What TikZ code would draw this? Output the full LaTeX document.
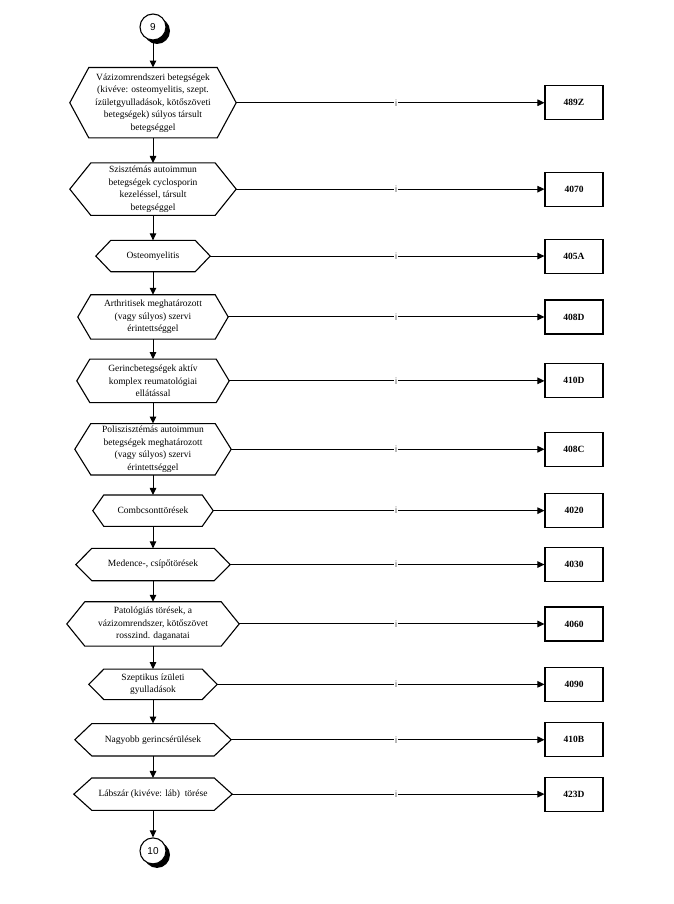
\documentclass[tikz,border=0pt]{standalone}
\usepackage{fontspec}
\setmainfont{Liberation Serif}
\setsansfont{Liberation Sans}
\usetikzlibrary{arrows.meta,positioning,shadows}

\tikzset{
  hexa/.style={align=center, inner sep=0pt, font=\fontsize{9.5}{12.5}\selectfont},
  hexline/.style={draw, line width=1.1pt, line join=miter},
  codebox/.style={draw, line width=1.1pt, minimum width=58pt, minimum height=34pt, inner sep=0pt, font=\fontsize{9.5}{11}\selectfont\bfseries},
  endcirc/.style={circle, draw, fill=white, line width=1.1pt, minimum size=26pt, inner sep=0pt, font=\sffamily\fontsize{10}{11}\selectfont, drop shadow={shadow xshift=4pt, shadow yshift=-4pt, fill=black, opacity=1}},
  arr/.style={-{Triangle[length=7pt,width=6.5pt]}, line width=1pt},
  ilabel/.style={fill=white, inner sep=0.8pt, text=black!70, font=\sffamily\fontsize{9}{9}\selectfont},
}

\begin{document}
\begin{tikzpicture}[x=1pt, y=1pt]
\useasboundingbox (0,0) rectangle (673,-904);
%nodes
\node[endcirc] (c9) at (153,-27) {9};
\node[hexa, minimum width=128pt, minimum height=70pt, below=27pt of c9] (h1) {V\'azizomrendszeri betegs\'egek\\(kiv\'eve: osteomyelitis, szept.\\\'iz\"uletgyullad\'asok, k\"ot\H{o}sz\"oveti\\betegs\'egek) s\'ulyos t\'arsult\\betegs\'eggel};
\node[hexa, minimum width=124pt, minimum height=52pt, below=25pt of h1] (h2) {Szisztémás autoimmun\\betegségek cyclosporin\\kezeléssel, társult\\betegséggel};
\node[hexa, minimum width=84pt, minimum height=31pt, below=25pt of h2] (h3) {Osteomyelitis};
\node[hexa, minimum width=124pt, minimum height=44pt, below=23pt of h3] (h4) {Arthritisek meghatározott\\(vagy súlyos) szervi\\érintettséggel};
\node[hexa, minimum width=126pt, minimum height=43pt, below=20pt of h4] (h5) {Gerincbetegségek aktív\\komplex reumatológiai\\ellátással};
\node[hexa, minimum width=124pt, minimum height=51pt, below=21pt of h5] (h6) {Poliszisztémás autoimmun\\betegségek meghatározott\\(vagy súlyos) szervi\\érintettséggel};
\node[hexa, minimum width=98pt, minimum height=31pt, below=20pt of h6] (h7) {Combcsonttörések};
\node[hexa, minimum width=122pt, minimum height=32pt, below=22pt of h7] (h8) {Medence-, csípőtörések};
\node[hexa, minimum width=136pt, minimum height=44pt, below=21pt of h8] (h9) {Patológiás törések, a\\vázizomrendszer, kötőszövet\\rosszind. daganatai};
\node[hexa, minimum width=98pt, minimum height=30pt, below=23pt of h9] (h10) {Szeptikus ízületi\\gyulladások};
\node[hexa, minimum width=122pt, minimum height=32pt, below=24pt of h10] (h11) {Nagyobb gerincsérülések};
\node[hexa, minimum width=122pt, minimum height=32pt, below=22pt of h11] (h12) {Lábszár (kivéve: láb)\ \ törése};
\node[endcirc, below=27pt of h12] (c10) {10};
% codes on the right
\coordinate (col) at (574,0);
\coordinate (icol) at (396,0);
\foreach \i/\c in {1/489Z, 2/4070, 3/405A, 4/408D, 5/410D, 6/408C, 7/4020, 8/4030, 9/4060, 10/4090, 11/410B, 12/423D}
  \node[codebox] (b\i) at (h\i -| col) {\c};
% hexagons and branches
\foreach \i/\d in {1/19, 2/21, 3/15, 4/13, 5/13, 6/16, 7/11, 8/16, 9/18, 10/15, 11/17, 12/18} {
  \draw[hexline] ([xshift=-\d pt]h\i.west) -- (h\i.north west) -- (h\i.north east) -- ([xshift=\d pt]h\i.east) coordinate (t\i) -- (h\i.south east) -- (h\i.south west) -- cycle;
  \draw[arr] (t\i) -- (t\i -| icol) node[ilabel]{i} -- (b\i);
}
% main line
\foreach \a/\b in {c9/h1, h1/h2, h2/h3, h3/h4, h4/h5, h5/h6, h6/h7, h7/h8, h8/h9, h9/h10, h10/h11, h11/h12, h12/c10}
  \draw[arr] (\a) -- (\b);
\end{tikzpicture}
\end{document}
